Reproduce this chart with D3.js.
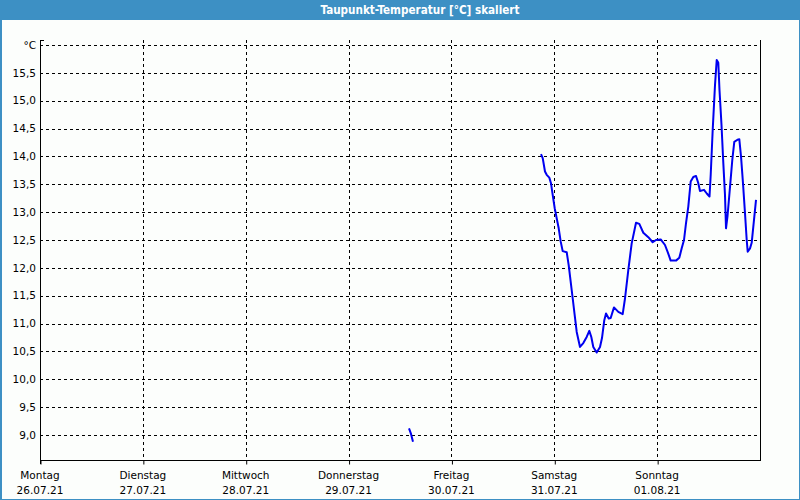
<!DOCTYPE html>
<html>
<head>
<meta charset="utf-8">
<script src="https://cdn.jsdelivr.net/npm/d3@7"></script>
<style>
  html, body { margin: 0; padding: 0; background: #fcfefc; }
  svg { display: block; }
  text { font-family: "DejaVu Sans", Verdana, sans-serif; }
</style>
</head>
<body>
<svg id="chart" width="800" height="500"></svg>
<script>
// ---- data ----
const title = "Taupunkt-Temperatur [°C] skaliert";
const dayNames = ["Montag", "Dienstag", "Mittwoch", "Donnerstag", "Freitag", "Samstag", "Sonntag"];
const dayDates = ["26.07.21", "27.07.21", "28.07.21", "29.07.21", "30.07.21", "31.07.21", "01.08.21"];
const yTicks = [9.0, 9.5, 10.0, 10.5, 11.0, 11.5, 12.0, 12.5, 13.0, 13.5, 14.0, 14.5, 15.0, 15.5];
const yUnitTick = 16.0;
const unitLabel = "°C";

// hours since Montag 26.07.21 00:00
const seg1Hours = [86.10, 86.57, 87.03];
const seg1Values = [9.12, 9.02, 8.88];

const seg2Hours = [116.90, 117.30, 117.83, 118.23, 118.84, 119.23, 119.63, 120.10, 120.56, 121.03,
  121.50, 121.96, 122.90, 123.36, 123.83, 124.30, 124.76, 125.23, 126.00, 126.77,
  127.56, 128.17, 128.64, 129.10, 129.89, 130.67, 131.13, 131.67, 132.07, 132.70,
  133.16, 133.93, 134.94, 135.96, 136.50, 137.27, 138.06, 139.07, 139.84, 140.77,
  141.94, 142.96, 143.73, 144.83, 145.83, 146.53, 147.16, 148.40, 149.17, 149.73,
  150.27, 150.73, 151.27, 151.83, 152.44, 153.07, 153.60, 154.00, 154.93, 155.63,
  156.22, 156.50, 156.96, 157.50, 157.90, 158.27, 158.55, 159.02, 159.44, 159.83,
  160.07, 160.42, 161.00, 161.54, 162.00, 162.75, 163.17, 163.57, 164.03, 164.50,
  164.90, 165.13, 165.67, 166.06, 166.60, 167.07];
const seg2Values = [14.04, 13.97, 13.73, 13.67, 13.62, 13.52, 13.31, 13.07, 12.89, 12.71,
  12.47, 12.30, 12.28, 12.05, 11.75, 11.45, 11.15, 10.85, 10.58, 10.65,
  10.76, 10.87, 10.76, 10.58, 10.48, 10.58, 10.74, 11.06, 11.18, 11.09,
  11.10, 11.29, 11.21, 11.17, 11.45, 11.96, 12.44, 12.81, 12.79, 12.63,
  12.55, 12.46, 12.50, 12.51, 12.41, 12.27, 12.13, 12.13, 12.18, 12.35,
  12.50, 12.80, 13.10, 13.55, 13.63, 13.65, 13.52, 13.38, 13.40, 13.33,
  13.28, 13.67, 14.47, 15.28, 15.73, 15.68, 15.19, 14.56, 13.88, 13.31,
  12.71, 12.93, 13.45, 13.94, 14.26, 14.30, 14.31, 14.00, 13.52, 12.98,
  12.50, 12.29, 12.35, 12.45, 12.86, 13.22];

// ---- layout ----
const W = 800, H = 500;
const pLeft = 40, pRight = 760, pTop = 40, pBottom = 460;
const svg = d3.select("#chart");

const start = new Date(2021, 6, 26, 0, 0);
const end = new Date(2021, 7, 2, 0, 0);
const x = d3.scaleTime().domain([start, end]).range([pLeft, pRight]);
const y = d3.scaleLinear().domain([9.0, 16.0]).range([435, 45]);
const hourToDate = h => new Date(start.getTime() + h * 3600 * 1000);

// frame
svg.append("rect").attr("x", 0).attr("y", 0).attr("width", W).attr("height", H).attr("fill", "#fcfefc");
svg.append("rect").attr("x", 0).attr("y", 0).attr("width", W).attr("height", 20).attr("fill", "#3d90c4");
svg.append("rect").attr("x", 0.5).attr("y", 0.5).attr("width", W - 1).attr("height", H - 1)
  .attr("fill", "none").attr("stroke", "#3d90c4").attr("stroke-width", 1);
svg.append("rect").attr("x", 0).attr("y", 0).attr("width", 2).attr("height", H).attr("fill", "#3d90c4");

svg.append("text").attr("x", 420).attr("y", 14).attr("text-anchor", "middle")
  .attr("fill", "#ffffff").attr("font-weight", "bold").attr("font-size", "11.6px")
  .style("font-family", "'DejaVu Sans Condensed', 'DejaVu Sans', sans-serif")
  .text(title);

// grid
const dayTicks = dayNames.map((d, i) => d3.timeDay.offset(start, i));
const grid = svg.append("g").attr("stroke", "#000").attr("stroke-dasharray", "3,3").attr("shape-rendering", "crispEdges");
yTicks.concat([yUnitTick]).forEach(v => {
  grid.append("line").attr("x1", pLeft).attr("x2", pRight)
    .attr("y1", Math.round(y(v)) + 0.5).attr("y2", Math.round(y(v)) + 0.5);
});
dayTicks.slice(1).forEach(d => {
  grid.append("line").attr("y1", pTop).attr("y2", pBottom)
    .attr("x1", Math.round(x(d)) + 0.5).attr("x2", Math.round(x(d)) + 0.5);
});

// axes
const xAxis = d3.axisBottom(x).tickValues(dayTicks).tickSize(4).tickFormat("");
const gx = svg.append("g").attr("transform", `translate(0.5,${pBottom + 0.5})`).call(xAxis);
gx.select(".domain").attr("d", `M${pLeft},0H${pRight}`).attr("stroke", "#000");
gx.selectAll("line").attr("stroke", "#000");

svg.append("line").attr("x1", pLeft + 0.5).attr("x2", pLeft + 0.5).attr("y1", pTop).attr("y2", pBottom + 4)
  .attr("stroke", "#000").attr("shape-rendering", "crispEdges");
svg.append("line").attr("x1", pRight + 0.5).attr("x2", pRight + 0.5).attr("y1", pTop).attr("y2", pBottom + 1)
  .attr("stroke", "#000").attr("shape-rendering", "crispEdges");
svg.append("line").attr("x1", pLeft).attr("x2", pLeft + 4).attr("y1", pTop + 0.5).attr("y2", pTop + 0.5)
  .attr("stroke", "#000").attr("shape-rendering", "crispEdges");

// y labels
const fmt = v => v.toFixed(1).replace(".", ",");
const yl = svg.append("g").attr("font-size", "10.5px").attr("fill", "#000").attr("text-anchor", "end");
yTicks.forEach(v => {
  yl.append("text").attr("x", 36).attr("y", y(v)).attr("dy", "0.36em").text(fmt(v));
});
yl.append("text").attr("x", 36).attr("y", y(yUnitTick)).attr("dy", "0.36em").text(unitLabel);

// x labels
const xl = svg.append("g").attr("font-size", "10.5px").attr("fill", "#000").attr("text-anchor", "middle");
dayTicks.forEach((d, i) => {
  xl.append("text").attr("x", x(d)).attr("y", 479).text(dayNames[i]);
  xl.append("text").attr("x", x(d)).attr("y", 494).text(dayDates[i]);
});

// lines
const line = d3.line().x(d => x(hourToDate(d[0]))).y(d => y(d[1]));
[[seg1Hours, seg1Values], [seg2Hours, seg2Values]].forEach(([hs, vs]) => {
  svg.append("path").datum(hs.map((h, i) => [h, vs[i]]))
    .attr("d", line).attr("fill", "none").attr("stroke", "#0000f0").attr("stroke-width", 2)
    .attr("stroke-linejoin", "round");
});
</script>
</body>
</html>
